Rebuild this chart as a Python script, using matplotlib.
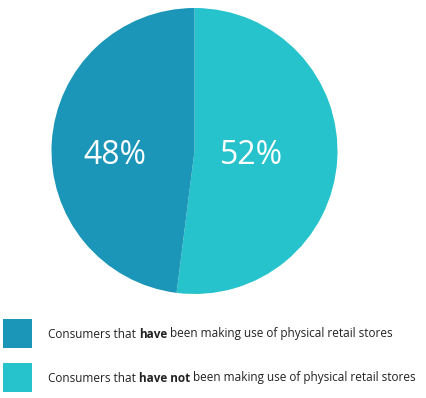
import matplotlib
matplotlib.use("Agg")
import matplotlib.pyplot as plt
from matplotlib.patches import Rectangle

plt.rcParams['font.family'] = ['Open Sans', 'DejaVu Sans']

# data
shares = [52, 48]
slice_colors = ['#26c3cc', '#1b96b9']
pct_labels = ['52%', '48%']

legend_colors = ['#1b96b9', '#26c3cc']
legend_parts = [
    ['Consumers that', 'have', 'been making use of physical retail stores'],
    ['Consumers that', 'have not', 'been making use of physical retail stores'],
]

W, H = 426, 398
fig = plt.figure(figsize=(W / 100, H / 100), dpi=100)

# pie axes (center ~ (194.5, 151) px, radius ~143 px)
cx, cy, r = 194.5, 151, 143
ax = fig.add_axes([(cx - r) / W, (H - cy - r) / H, 2 * r / W, 2 * r / H])
ax.pie(shares, colors=slice_colors, startangle=90, counterclock=False,
       radius=1, wedgeprops=dict(linewidth=0))
ax.set_xlim(-1, 1)
ax.set_ylim(-1, 1)
ax.set_aspect('equal')
ax.axis('off')

label_pos = [(0.40, -0.03), (-0.56, -0.03)]
for (x, y), lab in zip(label_pos, pct_labels):
    ax.text(x, y, lab, color='white', fontsize=23, ha='center', va='center')

# legend
renderer = fig.canvas.get_renderer()
sq_y = [319, 363]
for col, parts, y0 in zip(legend_colors, legend_parts, sq_y):
    fig.patches.append(Rectangle((3 / W, (H - y0 - 29) / H), 29 / W, 29 / H,
                                 transform=fig.transFigure, facecolor=col,
                                 edgecolor='none'))
    x = 48
    yc = H - (y0 + 15)
    for i, p in enumerate(parts):
        t = fig.text(x / W, yc / H, p, fontsize=8.45, color='#222222',
                     fontweight='bold' if i == 1 else 'normal',
                     ha='left', va='center')
        bb = t.get_window_extent(renderer)
        x = bb.x1 + 3.1

fig.savefig('out.png', dpi=100)
